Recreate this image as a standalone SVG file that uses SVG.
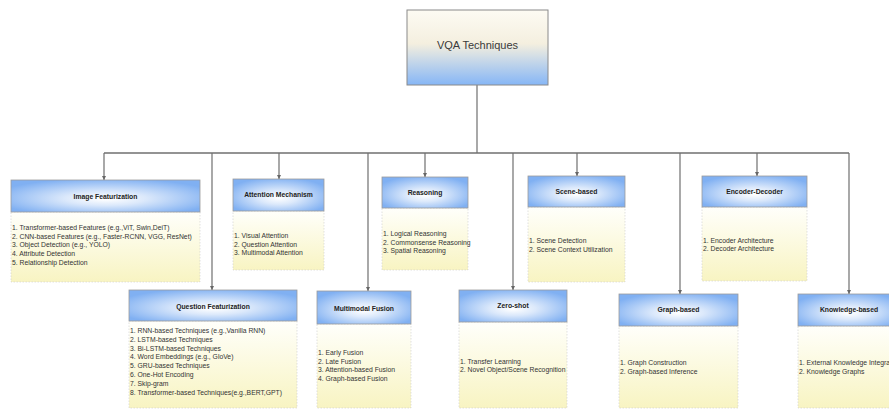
<svg xmlns="http://www.w3.org/2000/svg" width="889" height="409" viewBox="0 0 889 409">
  <defs>
    <linearGradient id="rootFill" x1="0" y1="0" x2="0" y2="1">
      <stop offset="0" stop-color="#fdfbf3"/>
      <stop offset="0.45" stop-color="#f4efdf"/>
      <stop offset="1" stop-color="#86b6f6"/>
    </linearGradient>
    <radialGradient id="hdr" cx="0.5" cy="0.55" r="0.6" fx="0.5" fy="0.6">
      <stop offset="0" stop-color="#ffffff"/>
      <stop offset="0.35" stop-color="#dce9fb"/>
      <stop offset="1" stop-color="#80b0f2"/>
    </radialGradient>
    <linearGradient id="body" x1="0" y1="0" x2="0" y2="1">
      <stop offset="0" stop-color="#fffffb"/>
      <stop offset="1" stop-color="#f8f4c2"/>
    </linearGradient>
    <marker id="arr" viewBox="0 0 6 6" refX="6" refY="3" markerWidth="4" markerHeight="4" markerUnits="userSpaceOnUse" orient="auto">
      <path d="M0,0 L6,3 L0,6 Z" fill="#666"/>
    </marker>
    <style>
      .root { fill:url(#rootFill); stroke:#8a8a8a; stroke-width:1; }
      .hd { fill:url(#hdr); stroke:#9c9c9c; stroke-width:0.8; }
      .bd { fill:url(#body); stroke:#cfcfcf; stroke-width:0.6; stroke-dasharray:1.5 1.5; }
      .rt { font-family:"Liberation Sans", Arial, sans-serif; font-size:11px; fill:#3a3a3a; text-anchor:middle; }
      .ht { font-family:"Liberation Sans", Arial, sans-serif; font-size:6.8px; font-weight:bold; fill:#222; text-anchor:middle; }
      .lt { font-family:"Liberation Sans", Arial, sans-serif; font-size:6.8px; fill:#333; }
      .ln { fill:none; stroke:#6f6f6f; stroke-width:1.2; }
      .bus { fill:none; stroke:#6f6f6f; stroke-width:1.6; }
    </style>
  </defs>

  <!-- connectors -->
  <g id="connectors">
    <path class="ln" d="M477,85 V153"/>
    <path class="bus" d="M104,153 H849"/>
    <path class="ln" d="M104,153 V180" marker-end="url(#arr)"/>
    <path class="ln" d="M212,153 V290" marker-end="url(#arr)"/>
    <path class="ln" d="M279,153 V179" marker-end="url(#arr)"/>
    <path class="ln" d="M368,153 V291" marker-end="url(#arr)"/>
    <path class="ln" d="M425,153 V177" marker-end="url(#arr)"/>
    <path class="ln" d="M513,153 V290" marker-end="url(#arr)"/>
    <path class="ln" d="M577,153 V176" marker-end="url(#arr)"/>
    <path class="ln" d="M680,153 V294" marker-end="url(#arr)"/>
    <path class="ln" d="M757,153 V176" marker-end="url(#arr)"/>
    <path class="ln" d="M849,153 V294" marker-end="url(#arr)"/>
  </g>

  <!-- root -->
  <g id="vqa-techniques">
    <rect class="root" x="407" y="10" width="141" height="75"/>
    <text class="rt" x="477.5" y="49">VQA Techniques</text>
  </g>

  <!-- top row -->
  <g id="image-featurization">
    <rect class="bd" x="11" y="212" width="189" height="70"/>
    <rect class="hd" x="11" y="180" width="189" height="32"/>
    <text class="ht" x="105.5" y="198.5">Image Featurization</text>
    <text class="lt" x="12" y="230">1. Transformer-based Features (e.g.,ViT, Swin,DeiT)</text>
    <text class="lt" x="12" y="238.7">2. CNN-based Features (e.g., Faster-RCNN, VGG, ResNet)</text>
    <text class="lt" x="12" y="247.4">3. Object Detection (e.g., YOLO)</text>
    <text class="lt" x="12" y="256.1">4. Attribute Detection</text>
    <text class="lt" x="12" y="264.8">5. Relationship Detection</text>
  </g>

  <g id="attention-mechanism">
    <rect class="bd" x="233" y="211" width="91" height="59"/>
    <rect class="hd" x="233" y="179" width="91" height="32"/>
    <text class="ht" x="278.5" y="196.5">Attention Mechanism</text>
    <text class="lt" x="234" y="238">1. Visual Attention</text>
    <text class="lt" x="234" y="246.5">2. Question Attention</text>
    <text class="lt" x="234" y="255">3. Multimodal Attention</text>
  </g>

  <g id="reasoning">
    <rect class="bd" x="382" y="208" width="86" height="62"/>
    <rect class="hd" x="382" y="177" width="86" height="31"/>
    <text class="ht" x="425" y="195">Reasoning</text>
    <text class="lt" x="383" y="236">1. Logical Reasoning</text>
    <text class="lt" x="383" y="244.5">2. Commonsense Reasoning</text>
    <text class="lt" x="383" y="253">3. Spatial Reasoning</text>
  </g>

  <g id="scene-based">
    <rect class="bd" x="528" y="207" width="97" height="75"/>
    <rect class="hd" x="528" y="176" width="97" height="31"/>
    <text class="ht" x="576.5" y="193.5">Scene-based</text>
    <text class="lt" x="529" y="243">1. Scene Detection</text>
    <text class="lt" x="529" y="251.5">2. Scene Context Utilization</text>
  </g>

  <g id="encoder-decoder">
    <rect class="bd" x="702" y="207" width="105" height="74"/>
    <rect class="hd" x="702" y="176" width="105" height="31"/>
    <text class="ht" x="754.5" y="193.5">Encoder-Decoder</text>
    <text class="lt" x="703" y="242.5">1. Encoder Architecture</text>
    <text class="lt" x="703" y="251">2. Decoder Architecture</text>
  </g>

  <!-- bottom row -->
  <g id="question-featurization">
    <rect class="bd" x="129" y="321" width="168" height="87"/>
    <rect class="hd" x="129" y="290" width="168" height="31"/>
    <text class="ht" x="213" y="309">Question Featurization</text>
    <text class="lt" x="130" y="333">1. RNN-based Techniques (e.g.,Vanilla RNN)</text>
    <text class="lt" x="130" y="341.8">2. LSTM-based Techniques</text>
    <text class="lt" x="130" y="350.6">3. Bi-LSTM-based Techniques</text>
    <text class="lt" x="130" y="359.4">4. Word Embeddings (e.g., GloVe)</text>
    <text class="lt" x="130" y="368.2">5. GRU-based Techniques</text>
    <text class="lt" x="130" y="377">6. One-Hot Encoding</text>
    <text class="lt" x="130" y="385.8">7. Skip-gram</text>
    <text class="lt" x="130" y="394.6">8. Transformer-based Techniques(e.g.,BERT,GPT)</text>
  </g>

  <g id="multimodal-fusion">
    <rect class="bd" x="317" y="324" width="94" height="84"/>
    <rect class="hd" x="317" y="291" width="94" height="33"/>
    <text class="ht" x="364" y="311">Multimodal Fusion</text>
    <text class="lt" x="318" y="355">1. Early Fusion</text>
    <text class="lt" x="318" y="363.5">2. Late Fusion</text>
    <text class="lt" x="318" y="372">3. Attention-based Fusion</text>
    <text class="lt" x="318" y="380.5">4. Graph-based Fusion</text>
  </g>

  <g id="zero-shot">
    <rect class="bd" x="459" y="322" width="108" height="86"/>
    <rect class="hd" x="459" y="290" width="108" height="32"/>
    <text class="ht" x="513" y="307.5">Zero-shot</text>
    <text class="lt" x="460" y="363.5">1. Transfer Learning</text>
    <text class="lt" x="460" y="372">2. Novel Object/Scene Recognition</text>
  </g>

  <g id="graph-based">
    <rect class="bd" x="619" y="326" width="119" height="82"/>
    <rect class="hd" x="619" y="294" width="119" height="32"/>
    <text class="ht" x="678.5" y="311.5">Graph-based</text>
    <text class="lt" x="620" y="365">1. Graph Construction</text>
    <text class="lt" x="620" y="373.5">2. Graph-based Inference</text>
  </g>

  <g id="knowledge-based">
    <rect class="bd" x="798" y="326" width="102" height="82"/>
    <rect class="hd" x="798" y="294" width="102" height="32"/>
    <text class="ht" x="849" y="311.5">Knowledge-based</text>
    <text class="lt" x="799" y="365">1. External Knowledge Integration</text>
    <text class="lt" x="799" y="373.5">2. Knowledge Graphs</text>
  </g>
</svg>
